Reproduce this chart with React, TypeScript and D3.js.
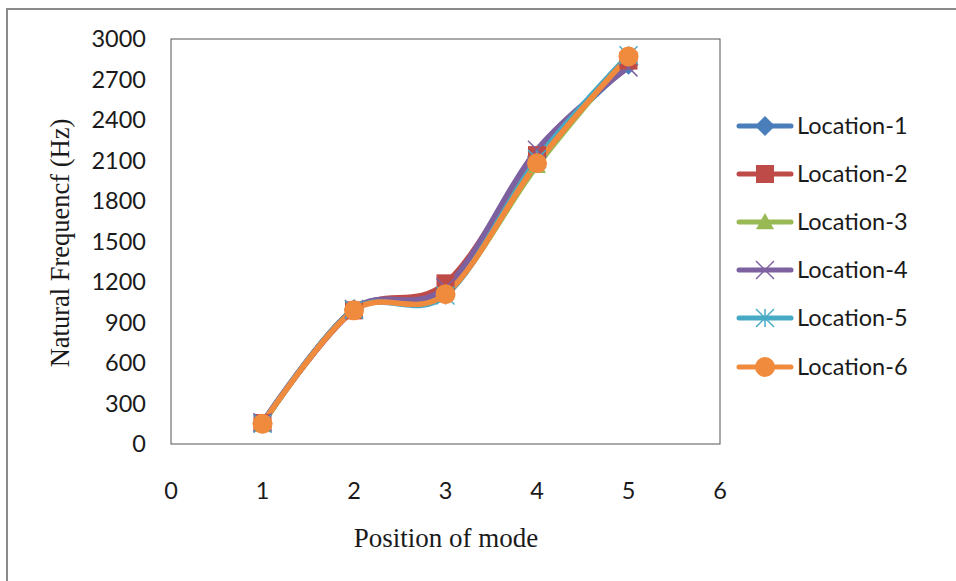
import React from "react";
import * as d3 from "d3";

const modes = [1, 2, 3, 4, 5];
const seriesNames = ["Location-1", "Location-2", "Location-3", "Location-4", "Location-5", "Location-6"];
const loc1 = [150, 1000, 1150, 2130, 2810];
const loc2 = [155, 990, 1190, 2140, 2840];
const loc3 = [145, 1000, 1120, 2060, 2880];
const loc4 = [160, 1000, 1160, 2180, 2790];
const loc5 = [150, 995, 1100, 2110, 2880];
const loc6 = [150, 990, 1110, 2080, 2870];
const seriesValues = [loc1, loc2, loc3, loc4, loc5, loc6];
const colors = ["#4A7EBB", "#BE4B48", "#98B954", "#7D60A0", "#46AAC5", "#F08A3C"];
const markers = ["diamond", "square", "triangle", "x", "star", "circle"];
const yTicks = [0, 300, 600, 900, 1200, 1500, 1800, 2100, 2400, 2700, 3000];
const xTicks = [0, 1, 2, 3, 4, 5, 6];

const W = 956, H = 581;
const plot = { left: 171, right: 720, top: 39, bottom: 444 };

function Marker({ kind, x, y, color }: { kind: string; x: number; y: number; color: string }) {
  const s = 9;
  switch (kind) {
    case "diamond":
      return <path d={`M${x},${y - s - 1}L${x + s + 1},${y}L${x},${y + s + 1}L${x - s - 1},${y}Z`} fill={color} />;
    case "square":
      return <rect x={x - s} y={y - s} width={2 * s} height={2 * s} fill={color} />;
    case "triangle":
      return <path d={`M${x},${y - s}L${x + s},${y + s * 0.8}L${x - s},${y + s * 0.8}Z`} fill={color} />;
    case "x":
      return (
        <g stroke={color} strokeWidth={1.5}>
          <line x1={x - s} y1={y - s} x2={x + s} y2={y + s} />
          <line x1={x - s} y1={y + s} x2={x + s} y2={y - s} />
        </g>
      );
    case "star":
      return (
        <g stroke={color} strokeWidth={1.5}>
          <line x1={x - s} y1={y - s} x2={x + s} y2={y + s} />
          <line x1={x - s} y1={y + s} x2={x + s} y2={y - s} />
          <line x1={x} y1={y - s} x2={x} y2={y + s} />
        </g>
      );
    default:
      return <circle cx={x} cy={y} r={s + 1} fill={color} />;
  }
}

export default function App() {
  const x = d3.scaleLinear().domain([0, 6]).range([plot.left, plot.right]);
  const y = d3.scaleLinear().domain([0, 3000]).range([plot.bottom, plot.top]);
  const line = d3
    .line<number>()
    .x((_, i) => x(modes[i]))
    .y((d) => y(d))
    .curve(d3.curveCardinal.tension(0));
  const legendRows = [126, 174, 222, 270, 318, 367];
  const textColor = "#1a1a1a";
  const sans = "Lato, 'Open Sans', sans-serif";
  const serif = "'Liberation Serif', 'Times New Roman', serif";
  const fs = 23.5;

  return (
    <div style={{ position: "absolute", left: 0, top: 0 }}>
      <svg width={W} height={H} style={{ display: "block", background: "#fff" }}>
        <rect x={7} y={9} width={W} height={H} fill="#fff" stroke="#8a8a8a" strokeWidth={2} />
        <rect
          x={plot.left}
          y={plot.top}
          width={plot.right - plot.left}
          height={plot.bottom - plot.top}
          fill="none"
          stroke="#555"
          strokeWidth={1}
        />
        {yTicks.map((t) => (
          <text key={t} x={146} y={y(t)} dy="0.36em" textAnchor="end" fontFamily={sans} fontSize={fs} fill={textColor}>
            {t}
          </text>
        ))}
        {xTicks.map((t) => (
          <text key={t} x={x(t)} y={499} textAnchor="middle" fontFamily={sans} fontSize={fs} fill={textColor}>
            {t}
          </text>
        ))}
        <text x={446} y={547} textAnchor="middle" fontFamily={serif} fontSize={27} fill={textColor}>
          Position of mode
        </text>
        <text
          transform="translate(69,243) rotate(-90)"
          textAnchor="middle"
          fontFamily={serif}
          fontSize={26.5}
          fill={textColor}
        >
          Natural Frequencf (Hz)
        </text>
        {seriesValues.map((vals, si) => (
          <g key={si}>
            <path d={line(vals) || ""} fill="none" stroke={colors[si]} strokeWidth={5.5} strokeLinecap="round" />
          </g>
        ))}
        {seriesValues.map((vals, si) => (
          <g key={"m" + si}>
            {vals.map((v, i) => (
              <Marker key={i} kind={markers[si]} x={x(modes[i])} y={y(v)} color={colors[si]} />
            ))}
          </g>
        ))}
        {seriesNames.map((name, si) => (
          <g key={name}>
            <line x1={739} x2={791} y1={legendRows[si]} y2={legendRows[si]} stroke={colors[si]} strokeWidth={5} strokeLinecap="round" />
            <Marker kind={markers[si]} x={765} y={legendRows[si]} color={colors[si]} />
            <text x={797} y={legendRows[si]} dy="0.36em" fontFamily={sans} fontSize={fs} fill={textColor}>
              {name}
            </text>
          </g>
        ))}
      </svg>
    </div>
  );
}
